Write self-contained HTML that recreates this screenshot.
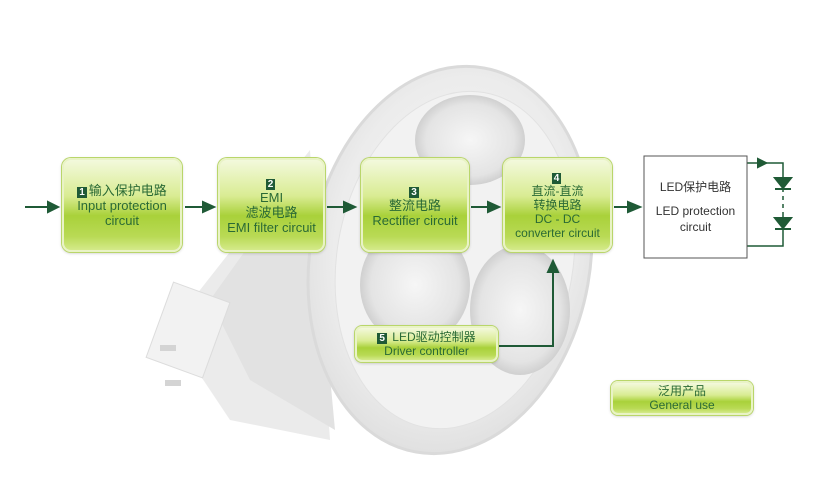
<!DOCTYPE html>
<html><head><meta charset="utf-8"><style>
body{margin:0;width:817px;height:484px;background:#fff;position:relative;overflow:hidden;font-family:"Liberation Sans","Noto Sans CJK SC",sans-serif}
.b{position:absolute;border-radius:9px;border:2px solid #e9f3c6;box-shadow:0 0 0 1px #b9d66a,0 1px 3px rgba(0,0,0,.25);
background:linear-gradient(#f3f9dc 0%,#d9ec93 40%,#a9d13a 62%,#b9da55 85%,#d4ea8a 100%);color:#2a6a35;text-align:center;font-size:13px;line-height:15px;display:flex;flex-direction:column;justify-content:center}
.n{display:inline-block;background:#1f5a36;color:#fff;font-size:10px;line-height:11px;padding:0 2px;font-weight:bold;margin-right:2px}
svg{position:absolute;left:0;top:0}
</style></head><body>
<svg width="817" height="484">
<defs>
<radialGradient id="g" cx="50%" cy="45%" r="60%"><stop offset="0" stop-color="#f8f8f8"/><stop offset=".7" stop-color="#ececec"/><stop offset="1" stop-color="#dcdcdc"/></radialGradient>
<radialGradient id="l" cx="50%" cy="50%" r="50%"><stop offset="0" stop-color="#f6f6f6"/><stop offset=".8" stop-color="#e4e4e4"/><stop offset="1" stop-color="#d0d0d0"/></radialGradient>
</defs>
<path d="M310 150 L200 290 L170 330 L230 420 L330 440 Z" fill="#ebebeb"/>
<path d="M310 160 L210 300 L250 380 L335 430 Z" fill="#e2e2e2"/>
<rect x="158" y="290" width="60" height="80" fill="#f2f2f2" stroke="#dcdcdc" transform="rotate(20 188 330)"/>
<rect x="160" y="345" width="16" height="6" fill="#d4d4d4"/><rect x="165" y="380" width="16" height="6" fill="#d4d4d4"/>
<ellipse cx="450" cy="260" rx="140" ry="195" fill="url(#g)" stroke="#dadada" stroke-width="3" transform="rotate(10 450 260)"/>
<ellipse cx="455" cy="260" rx="118" ry="170" fill="#f2f2f2" stroke="#e2e2e2" transform="rotate(10 455 260)"/>
<ellipse cx="470" cy="140" rx="55" ry="45" fill="url(#l)"/>
<ellipse cx="415" cy="285" rx="55" ry="60" fill="url(#l)"/>
<ellipse cx="520" cy="310" rx="50" ry="65" fill="url(#l)"/>
<g stroke="#1f5a36" stroke-width="2" fill="#1f5a36">
<line x1="25" y1="207" x2="50" y2="207"/><polygon points="48,202 58,207 48,212"/>
<line x1="185" y1="207" x2="205" y2="207"/><polygon points="203,202 214,207 203,212"/>
<line x1="327" y1="207" x2="346" y2="207"/><polygon points="344,202 355,207 344,212"/>
<line x1="471" y1="207" x2="490" y2="207"/><polygon points="488,202 499,207 488,212"/>
<line x1="614" y1="207" x2="630" y2="207"/><polygon points="628,202 640,207 628,212"/>
<polyline points="497,346 553,346 553,270" fill="none"/><polygon points="548,272 553,261 558,272"/>
<polyline points="747,163 783,163 783,246 747,246" fill="none" stroke-width="1.5"/>
<polygon points="758,159 766,163 758,167"/>
<polygon points="775,178 791,178 783,188"/><line x1="775" y1="189" x2="791" y2="189"/>
<polygon points="775,218 791,218 783,228"/><line x1="775" y1="229" x2="791" y2="229"/>
</g>
<line x1="783" y1="192" x2="783" y2="214" stroke="#fff" stroke-width="3" stroke-dasharray="4 4"/>
<rect x="644" y="156" width="103" height="102" fill="#fff" stroke="#555" stroke-width="1"/>
</svg>
<div class="b" style="left:62px;top:158px;width:116px;height:90px"><div><span class="n">1</span>输入保护电路</div><div>Input protection</div><div>circuit</div></div>
<div class="b" style="left:218px;top:158px;width:103px;height:90px"><div><span class="n">2</span></div><div>EMI</div><div>滤波电路</div><div>EMI filter circuit</div></div>
<div class="b" style="left:361px;top:158px;width:104px;height:90px"><div><span class="n">3</span></div><div>整流电路</div><div>Rectifier circuit</div></div>
<div class="b" style="left:503px;top:158px;width:105px;height:90px;font-size:12px;line-height:14px"><div><span class="n">4</span></div><div>直流-直流</div><div>转换电路</div><div>DC - DC</div><div>converter circuit</div></div>
<div style="position:absolute;left:645px;top:157px;width:101px;height:100px;color:#333;font-size:12px;line-height:16px;text-align:center;display:flex;flex-direction:column;justify-content:center"><div>LED保护电路</div><div style="height:8px"></div><div>LED protection</div><div>circuit</div></div>
<div class="b" style="left:355px;top:326px;width:139px;height:32px;font-size:12px;line-height:14px;border-radius:7px"><div><span class="n">5</span> LED驱动控制器</div><div>Driver controller</div></div>
<div class="b" style="left:611px;top:381px;width:138px;height:30px;font-size:12px;line-height:14px;border-radius:7px"><div>泛用产品</div><div>General use</div></div>
</body></html>
